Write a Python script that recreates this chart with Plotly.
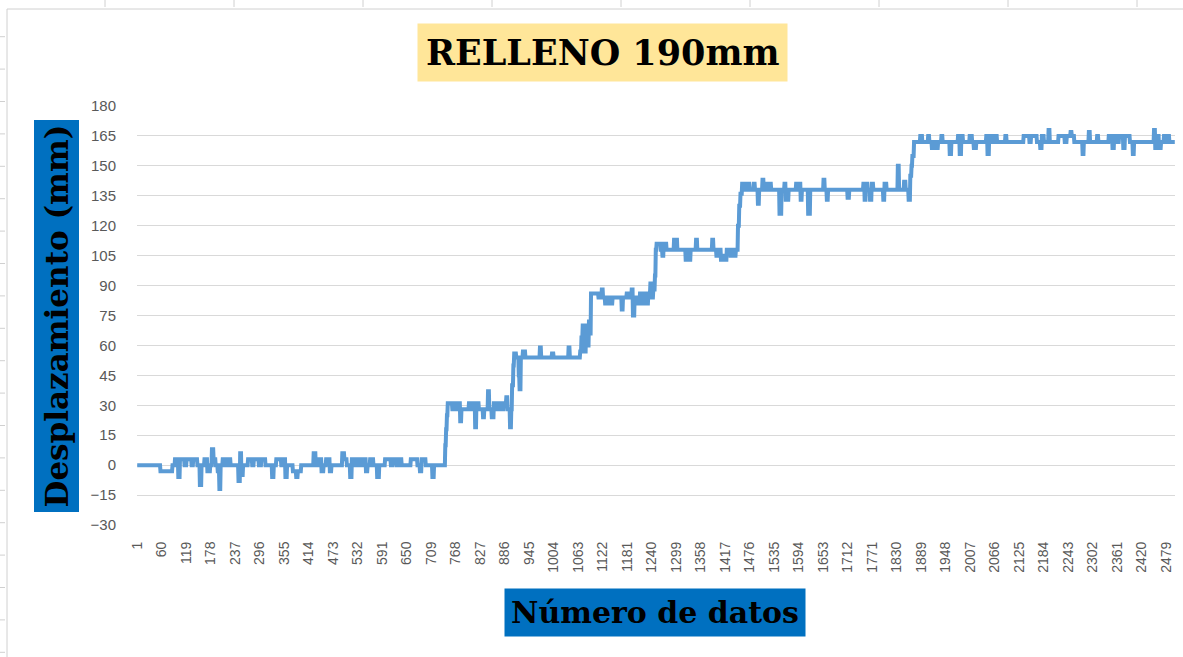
import numpy as np
import plotly.graph_objects as go

# ---------------- data ----------------
n_points = 2500
tick_labels = list(range(1, 2480, 59))          # 1, 60, 119, ... 2479
y_ticks = list(range(-30, 181, 15))

# (data index where the reading starts, displacement mm) for each plateau
plateau_0 = [(1, 0), (57, -3), (86, 0), (92, 3), (100, -6), (104, 3), (115, 0), (120, 3), (132, 0),
             (136, 3), (146, 0), (152, -10), (156, 0), (163, 3), (170, -3), (177, 0), (181, 8), (185, 3),
             (190, 0), (195, -3), (199, -12), (202, 0), (207, 3), (215, 0), (220, 3), (226, 0), (245, -8),
             (249, 6), (252, -5), (256, 0), (268, 3), (278, 0), (282, 3), (294, 0), (300, 3), (310, 0),
             (326, -6), (330, 0), (336, 3), (348, 0), (352, 3), (358, -6), (362, 0), (376, -3), (384, -6),
             (388, -3), (396, 0), (426, 6), (431, 0), (438, 3), (445, -3), (450, 0), (456, 3), (465, -3),
             (469, 0), (495, 6), (500, 3), (506, 0), (514, -6), (518, 3), (525, 0), (530, 3), (538, 0),
             (544, 3), (552, -3), (556, 0), (562, 3), (570, 0), (579, -6), (584, 0), (598, 3), (612, 0),
             (616, 3), (625, 0), (632, 3), (638, 0), (660, 3), (676, 0), (682, -3), (686, 3), (696, 0),
             (712, -6), (716, 0)]
plateau_28 = [(743, 10), (745, 18), (747, 25), (749, 31), (760, 28), (764, 31), (770, 28), (776, 31),
              (779, 22), (782, 28), (800, 31), (806, 28), (810, 31), (815, 19), (818, 31), (824, 28),
              (834, 24), (837, 28), (846, 37), (849, 28), (855, 24), (860, 31), (866, 28), (872, 31),
              (878, 28), (884, 31), (890, 34), (893, 28), (899, 19), (902, 28)]
plateau_54 = [(904, 40), (907, 50), (909, 56), (914, 54), (920, 45), (922, 38), (925, 54), (930, 57),
              (936, 54), (971, 59), (974, 54), (1000, 56), (1004, 54), (1040, 59), (1043, 54), (1068, 57),
              (1071, 64), (1074, 70), (1078, 57), (1082, 70), (1086, 60), (1089, 72), (1092, 66)]
plateau_83 = [(1094, 86), (1112, 84), (1120, 88), (1123, 84), (1128, 81), (1134, 84), (1140, 81),
              (1146, 84), (1168, 78), (1171, 84), (1180, 86), (1184, 84), (1192, 88), (1195, 75),
              (1199, 84), (1206, 81), (1212, 86), (1216, 81), (1222, 86), (1226, 81), (1232, 86),
              (1237, 91), (1240, 84), (1244, 88), (1248, 95)]
plateau_108 = [(1250, 108), (1252, 111), (1262, 108), (1266, 105), (1269, 111), (1276, 108), (1294, 113),
               (1302, 108), (1322, 103), (1326, 108), (1330, 103), (1334, 108), (1347, 113), (1350, 108),
               (1386, 113), (1389, 108), (1396, 105), (1399, 108), (1407, 103), (1412, 105), (1417, 103),
               (1421, 108), (1430, 105), (1433, 108), (1440, 105), (1443, 108), (1448, 120), (1451, 130)]
plateau_138 = [(1454, 136), (1458, 141), (1464, 138), (1472, 141), (1476, 138), (1486, 141), (1489, 138),
               (1496, 131), (1499, 138), (1507, 143), (1510, 138), (1514, 141), (1520, 138), (1524, 141),
               (1528, 138), (1548, 126), (1553, 138), (1560, 141), (1563, 133), (1570, 138), (1588, 141),
               (1592, 138), (1596, 141), (1599, 133), (1602, 138), (1617, 126), (1622, 138), (1654, 143),
               (1657, 138), (1662, 133), (1665, 138), (1712, 134), (1716, 138), (1750, 141), (1753, 133),
               (1756, 141), (1760, 138), (1766, 133), (1770, 141), (1774, 138), (1798, 133), (1801, 141),
               (1806, 138), (1833, 150), (1836, 138), (1848, 142), (1852, 138), (1859, 133), (1863, 145),
               (1866, 150), (1868, 155)]
plateau_162 = [(1872, 162), (1887, 165), (1892, 162), (1906, 165), (1909, 162), (1915, 159), (1920, 162),
               (1925, 159), (1930, 162), (1938, 165), (1941, 162), (1958, 156), (1962, 162), (1978, 165),
               (1982, 156), (1986, 165), (1990, 162), (2006, 165), (2012, 162), (2016, 159), (2022, 162),
               (2046, 165), (2049, 156), (2053, 165), (2060, 162), (2066, 165), (2072, 162), (2092, 165),
               (2095, 162), (2136, 165), (2150, 162), (2154, 165), (2168, 162), (2176, 159), (2180, 165),
               (2185, 162), (2196, 168), (2199, 162), (2220, 165), (2235, 162), (2240, 165), (2249, 167),
               (2252, 165), (2258, 162), (2278, 156), (2281, 162), (2293, 167), (2296, 162), (2313, 165),
               (2316, 162), (2341, 165), (2350, 159), (2354, 165), (2362, 162), (2366, 165), (2376, 159),
               (2380, 165), (2392, 162), (2399, 156), (2402, 162), (2450, 168), (2453, 159), (2458, 165),
               (2462, 159), (2467, 162), (2474, 165), (2478, 162), (2483, 165), (2487, 162)]

# ---------------- build the series (each reading held until the next one) ----------------
readings = plateau_0 + plateau_28 + plateau_54 + plateau_83 + plateau_108 + plateau_138 + plateau_162
starts = np.array([r[0] for r in readings])
values = np.array([r[1] for r in readings], dtype=float)
x = np.arange(1, n_points + 1)
y = values[np.searchsorted(starts, x, side="right") - 1]

# ---------------- figure ----------------
W, H = 1183, 657
L, R, T, B = 137, 1175, 106, 525          # plot-area pixel box


def px(xp):
    return (xp - L) / (R - L)


def py(yp):
    return (B - yp) / (B - T)


fig = go.Figure()
fig.add_trace(go.Scatter(x=x, y=y, mode="lines",
                         line=dict(color="#5B9BD5", width=4), hoverinfo="skip"))

shapes = [
    dict(type="line", xref="paper", yref="paper", x0=px(7), x1=px(7), y0=py(9), y1=py(660),
         line=dict(color="#D0D0D0", width=1)),
    dict(type="line", xref="paper", yref="paper", x0=px(7), x1=px(1185), y0=py(9), y1=py(9),
         line=dict(color="#D0D0D0", width=1)),
]
for k in range(20):
    yy = 36.7 + 32.4 * k
    if yy > 657:
        break
    shapes.append(dict(type="line", xref="paper", yref="paper", x0=px(0), x1=px(5), y0=py(yy), y1=py(yy),
                       line=dict(color="#D0D0D0", width=1)))
for k in range(10):
    xx = 105 + 129 * k
    if xx > 1183:
        break
    shapes.append(dict(type="line", xref="paper", yref="paper", x0=px(xx), x1=px(xx), y0=py(0), y1=py(7),
                       line=dict(color="#D0D0D0", width=1)))

annotations = [
    dict(text="<b>RELLENO 190mm</b>", xref="paper", yref="paper", x=px(602), y=py(53),
         xanchor="center", yanchor="middle", showarrow=False,
         font=dict(family="DejaVu Serif", size=35, color="black"),
         bgcolor="#FFE699", borderpad=8),
    dict(text="<b>Desplazamiento (mm)</b>", xref="paper", yref="paper", x=px(56), y=py(316.5),
         xanchor="center", yanchor="middle", showarrow=False, textangle=-90,
         font=dict(family="DejaVu Serif", size=31, color="black"),
         bgcolor="#0070C0", borderpad=4),
    dict(text="<b>Número de datos</b>", xref="paper", yref="paper", x=px(654.5), y=py(612),
         xanchor="center", yanchor="middle", showarrow=False,
         font=dict(family="DejaVu Serif", size=30, color="black"),
         bgcolor="#0070C0", borderpad=6),
]

fig.update_layout(
    width=W, height=H, autosize=False,
    margin=dict(l=L, r=W - R, t=T, b=H - B, pad=0),
    paper_bgcolor="white", plot_bgcolor="white",
    showlegend=False,
    shapes=shapes, annotations=annotations,
    xaxis=dict(range=[0.5, n_points + 0.5], tickmode="array", tickvals=tick_labels,
               ticktext=[str(v) for v in tick_labels], tickangle=-90,
               tickfont=dict(family="Liberation Sans", size=14, color="#595959"),
               showgrid=False, zeroline=False, showline=False,
               ticks="outside", ticklen=10, tickcolor="rgba(0,0,0,0)"),
    yaxis=dict(range=[-30, 180], tickmode="array", tickvals=y_ticks,
               tickfont=dict(family="Liberation Sans", size=15, color="#595959"),
               showgrid=True, gridcolor="#D9D9D9", gridwidth=1, zeroline=False, showline=False,
               ticks="outside", ticklen=17, tickcolor="rgba(0,0,0,0)"),
)

fig.write_html("out.html", config={"displayModeBar": False},
               post_script="document.body.style.margin='0px';document.body.style.overflow='hidden';")
